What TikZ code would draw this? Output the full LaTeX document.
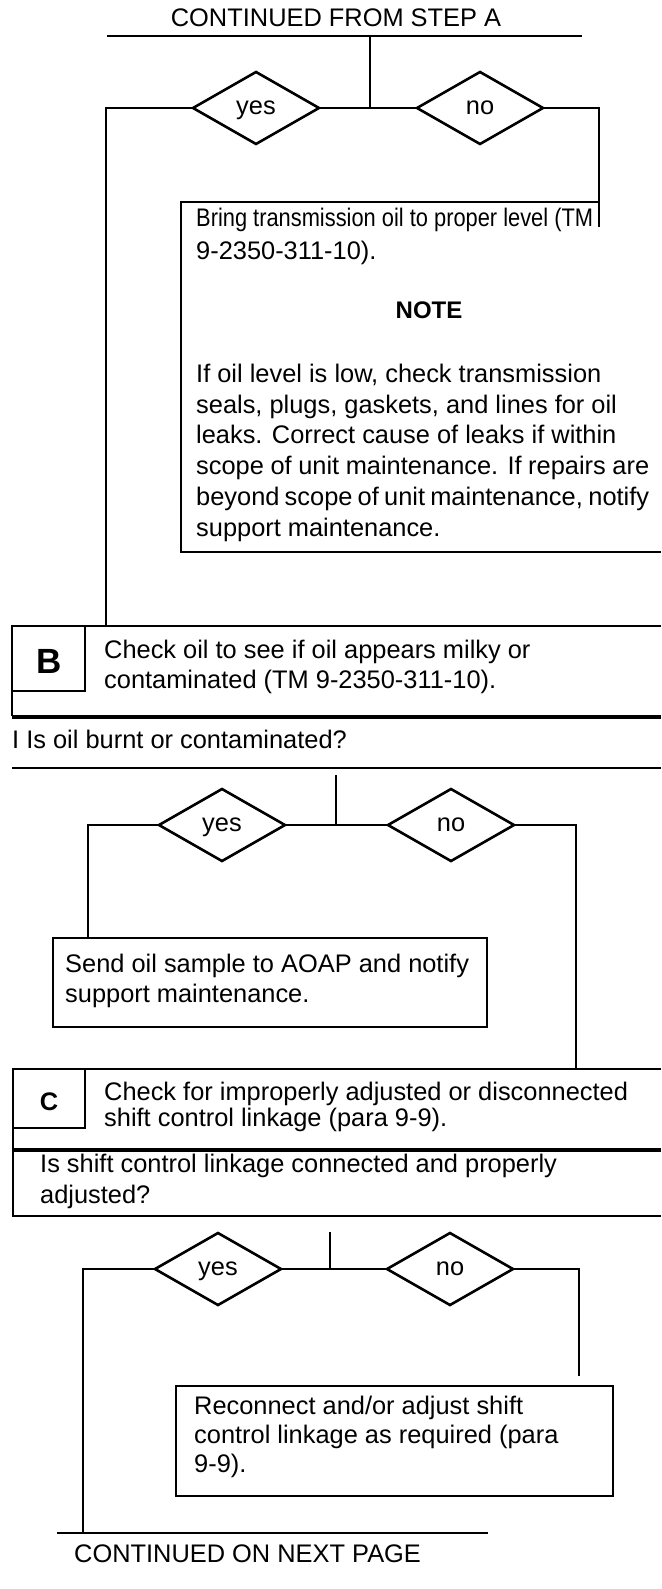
\documentclass[tikz,border=0pt]{standalone}
\usepackage{fontspec}
\setmainfont{Liberation Sans}
\newfontfamily\narrowfont[FakeStretch=0.86]{Liberation Sans}
\usetikzlibrary{shapes.geometric}

\tikzset{
  rule/.style={line width=2.8pt},
  heavyrule/.style={line width=4pt},
  conn/.style={line width=2.2pt},
  choice/.style={draw,shape=diamond,line width=2.6pt,minimum width=126pt,
    minimum height=72pt,inner sep=0pt,outer sep=0pt,text height=13pt,text depth=0pt},
  framebox/.style={draw,line width=2.6pt,anchor=north west,inner sep=0pt,outer sep=0pt},
  txt/.style={anchor=base west,inner sep=0pt},
}

\begin{document}
\begin{tikzpicture}[x=1pt,y=-1pt,font=\fontsize{25.4}{30}\selectfont]
    \useasboundingbox (0,0) rectangle (661,1589);
    % step A
    \node[anchor=base,inner sep=0pt] (title) at (336,27) {CONTINUED FROM STEP A};
    \draw[rule] (107,36) -- (582,36);
    \coordinate (inA) at (370,36);
    \node[choice] (yesA) at (256,108) {yes};
    \node[choice] (noA) at (480,108) {no};
    \coordinate (leftA) at (106,626);
    \coordinate (rightA) at (599,227);
    \draw[conn] (inA) -- (inA |- yesA);
    \draw[conn] (yesA) -- (noA);
    \draw[conn] (yesA.west) -| (leftA);
    \draw[conn] (noA.east) -| (rightA);
    \coordinate (fixA) at (181,202);
    \draw[rule] (599,202) -- (fixA) -- (181,552) -- (661,552);
    \node[txt] (fixA1) at (196,227) {\narrowfont Bring transmission oil to proper level (TM};
    \node[txt] (fixA2) at (196,260) {9-2350-311-10).};
    \node[anchor=base,inner sep=0pt,font=\fontsize{24}{30}\selectfont\bfseries] (note) at (429,318) {NOTE};
    \node[txt] (note1) at (196,382) {If oil level is low, check transmission};
    \node[txt] (note2) at (196,413) {seals, plugs, gaskets, and lines for oil};
    \node[txt] (note3) at (196,443) {leaks. Correct cause of leaks if within};
    \node[txt] (note4) at (196,474) {\makebox[453pt][s]{scope of unit maintenance. If repairs are}};
    \node[txt] (note5) at (196,505) {\makebox[453pt][s]{beyond scope of unit maintenance, notify}};
    \node[txt] (note6) at (196,536) {support maintenance.};
    % step B
    \draw[rule] (12,626) -- (661,626);
    \node[framebox,minimum width=73pt,minimum height=65pt] (stepB) at (12,626) {};
    \node[anchor=base,inner sep=0pt,font=\fontsize{35}{35}\selectfont\bfseries] (labB) at (49.5,673) {B};
    \draw[rule] (stepB.south west) -- (12,716);
    \node[txt] (checkB1) at (104,658) {Check oil to see if oil appears milky or};
    \node[txt] (checkB2) at (104,688) {contaminated (TM 9-2350-311-10).};
    \draw[heavyrule] (12,717) -- (661,717);
    \node[txt] (askB) at (12,748) {I Is oil burnt or contaminated?};
    \draw[conn] (12,768) -- (661,768);
    \coordinate (inB) at (336,775);
    \node[choice] (yesB) at (222,825) {yes};
    \node[choice] (noB) at (451,825) {no};
    \node[framebox,minimum width=434pt,minimum height=89pt] (sendB) at (53,938) {};
    \coordinate (leftB) at (88,938);
    \coordinate (rightB) at (576,1069);
    \draw[conn] (inB) -- (inB |- yesB);
    \draw[conn] (yesB) -- (noB);
    \draw[conn] (yesB.west) -| (leftB);
    \draw[conn] (noB.east) -| (rightB);
    \node[txt] (sendB1) at (65,972) {Send oil sample to AOAP and notify};
    \node[txt] (sendB2) at (65,1002) {support maintenance.};
    % step C
    \draw[rule] (13,1069) -- (661,1069);
    \node[framebox,minimum width=72pt,minimum height=59pt] (stepC) at (13,1069) {};
    \node[anchor=base,inner sep=0pt,font=\fontsize{25.4}{30}\selectfont\bfseries] (labC) at (49,1110) {C};
    \draw[rule] (stepC.south west) -- (13,1150);
    \node[txt] (checkC1) at (104,1100) {Check for improperly adjusted or disconnected};
    \node[txt] (checkC2) at (104,1126) {shift control linkage (para 9-9).};
    \draw[heavyrule] (13,1150) -- (661,1150);
    \draw[rule] (13,1150) -- (13,1216) -- (661,1216);
    \node[txt] (askC1) at (40,1172) {Is shift control linkage connected and properly};
    \node[txt] (askC2) at (40,1203) {adjusted?};
    \coordinate (inC) at (330,1232);
    \node[choice] (yesC) at (218,1269) {yes};
    \node[choice] (noC) at (450,1269) {no};
    \node[framebox,minimum width=437pt,minimum height=110pt] (fixC) at (176,1386) {};
    \coordinate (leftC) at (83,1533);
    \coordinate (rightC) at (579,1376);
    \draw[conn] (inC) -- (inC |- yesC);
    \draw[conn] (yesC) -- (noC);
    \draw[conn] (yesC.west) -| (leftC);
    \draw[conn] (noC.east) -| (rightC);
    \node[txt] (fixC1) at (194,1414) {Reconnect and/or adjust shift};
    \node[txt] (fixC2) at (194,1443) {control linkage as required (para};
    \node[txt] (fixC3) at (194,1472) {9-9).};
    \draw[rule] (57,1533) -- (488,1533);
    \node[txt] (nextpage) at (74,1562) {CONTINUED ON NEXT PAGE};
\end{tikzpicture}
\end{document}
